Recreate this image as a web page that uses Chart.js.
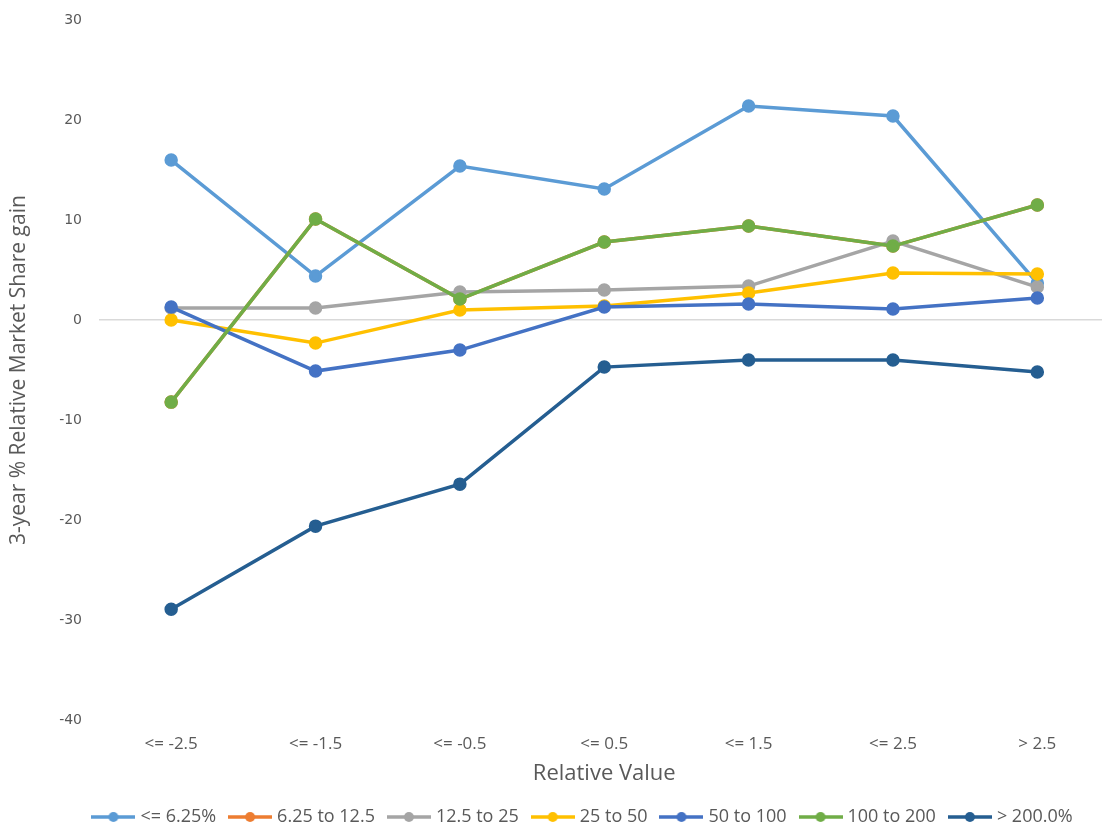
<!DOCTYPE html>
<html>
<head>
<meta charset="utf-8">
<script src="https://cdn.jsdelivr.net/npm/chart.js@4/dist/chart.umd.min.js"></script>
<style>
  html, body { margin: 0; padding: 0; background: #fff; overflow: hidden; }
  #wrap { width: 1118px; height: 826px; position: relative; }
</style>
</head>
<body>
<div id="wrap"><canvas id="myChart"></canvas></div>
<script>
// categories + series
const categories = ['<= -2.5', '<= -1.5', '<= -0.5', '<= 0.5', '<= 1.5', '<= 2.5', '> 2.5'];
const seriesNames = ['<= 6.25%', '6.25 to 12.5', '12.5 to 25', '25 to 50', '50 to 100', '100 to 200', '> 200.0%'];
const upTo6 = [16.0, 4.4, 15.4, 13.1, 21.4, 20.4, 3.7];
const from6to12 = [-8.2, 10.1, 2.1, 7.8, 9.4, 7.4, 11.5];
const from12to25 = [1.2, 1.2, 2.8, 3.0, 3.4, 7.9, 3.3];
const from25to50 = [0.0, -2.3, 1.0, 1.4, 2.7, 4.7, 4.6];
const from50to100 = [1.3, -5.1, -3.0, 1.3, 1.6, 1.1, 2.2];
const from100to200 = [-8.2, 10.1, 2.1, 7.8, 9.4, 7.4, 11.5];
const over200 = [-28.9, -20.6, -16.4, -4.7, -4.0, -4.0, -5.2];
const yTicks = [-40, -30, -20, -10, 0, 10, 20, 30];

const allValues = [upTo6, from6to12, from12to25, from25to50, from50to100, from100to200, over200];
const colors = ['#5B9BD5', '#ED7D31', '#A5A5A5', '#FFC000', '#4472C4', '#70AD47', '#255E91'];

// legend swatch: short line with a dot in the middle
function swatch(color) {
  const c = document.createElement('canvas');
  c.width = 44; c.height = 12;
  const g = c.getContext('2d');
  g.strokeStyle = color;
  g.lineWidth = 3.5;
  g.beginPath(); g.moveTo(0, 6); g.lineTo(44, 6); g.stroke();
  g.fillStyle = color;
  g.beginPath(); g.arc(22, 6, 5, 0, Math.PI * 2); g.fill();
  return c;
}

const datasets = seriesNames.map((name, i) => ({
  label: name,
  data: allValues[i],
  borderColor: colors[i],
  backgroundColor: colors[i],
  pointBackgroundColor: colors[i],
  pointBorderColor: colors[i],
  pointRadius: 5,
  borderWidth: 3.5,
  tension: 0,
  order: seriesNames.length - i,
  pointStyle: 'circle',
  _swatch: swatch(colors[i])
}));

const grey = '#595959';
const txtFont = '"Open Sans", sans-serif';

// nudge the legend a bit right, like the original
const shiftLegend = {
  id: 'shiftLegend',
  afterLayout(chart) {
    chart.legend.left += 22;
    chart.legend.right += 22;
  }
};

const ctx = document.getElementById('myChart').getContext('2d');
const myChart = new Chart(ctx, {
  type: 'line',
  data: { labels: categories, datasets: datasets },
  plugins: [shiftLegend],
  options: {
    responsive: true,
    maintainAspectRatio: false,
    animation: false,
    layout: { padding: { left: 6, right: 0, top: 20, bottom: -10 } },
    plugins: {
      tooltip: { enabled: false },
      legend: {
        position: 'bottom',
        labels: {
          color: grey,
          font: { family: txtFont, size: 18 },
          usePointStyle: true,
          pointStyleWidth: 36,
          padding: 16,
          sort: (a, b) => a.datasetIndex - b.datasetIndex,
          generateLabels: (chart) => {
            return chart.data.datasets.map((ds, i) => ({
              text: ds.label,
              fillStyle: ds.borderColor,
              strokeStyle: ds.borderColor,
              fontColor: grey,
              lineWidth: 0,
              pointStyle: ds._swatch,
              datasetIndex: i,
              hidden: false
            }));
          }
        }
      }
    },
    scales: {
      x: {
        offset: true,
        grid: { display: false, drawTicks: false },
        border: { display: false },
        ticks: { color: grey, font: { family: txtFont, size: 17 }, padding: 14, maxRotation: 0 },
        title: { display: true, text: 'Relative Value', color: grey, font: { family: txtFont, size: 22 }, padding: { top: -8, bottom: 5 } }
      },
      y: {
        min: -40,
        max: 30,
        afterBuildTicks: (axis) => { axis.ticks = yTicks.map(v => ({ value: v })); },
        afterFit: (axis) => { axis.width = 93; axis.paddingTop = 0; axis.paddingBottom = 0; },
        grid: {
          drawTicks: false,
          color: (c) => (c.tick && c.tick.value === 0 ? '#D9D9D9' : 'rgba(0,0,0,0)'),
          lineWidth: 1.5
        },
        border: { display: false },
        ticks: { color: grey, font: { family: '"DejaVu Sans", sans-serif', size: 14 }, padding: 17 },
        title: { display: true, text: '3-year % Relative Market Share gain', color: grey, font: { family: txtFont, size: 21 }, padding: { top: 0, bottom: 0 } }
      }
    }
  }
});
</script>
</body>
</html>
